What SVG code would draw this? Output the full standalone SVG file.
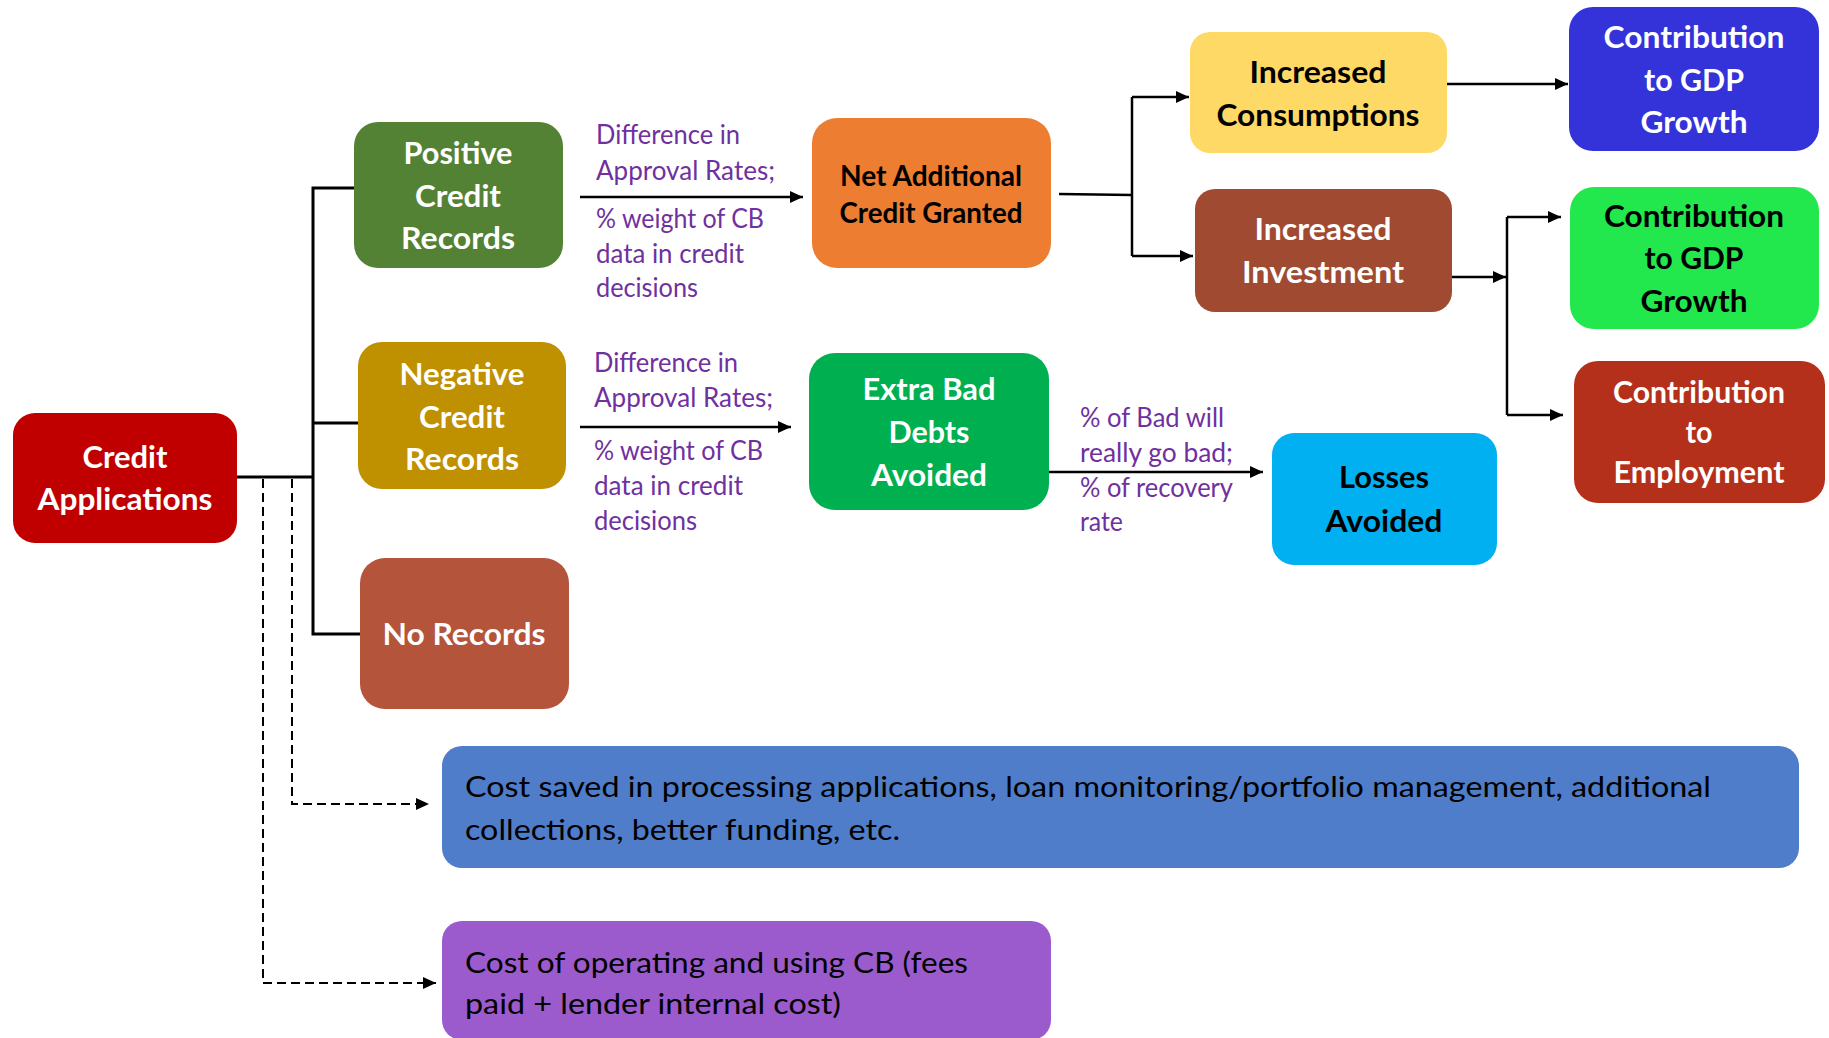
<svg xmlns="http://www.w3.org/2000/svg" width="1829" height="1038" viewBox="0 0 1829 1038">
  <style>
    text { font-family: Lato, "Open Sans", "Liberation Sans", sans-serif; }
    .t { font-weight: 700; font-size: 31px; text-anchor: middle; }
    .t-sm { font-weight: 700; font-size: 28px; text-anchor: middle; }
    .w { fill: #ffffff; }
    .k { fill: #000000; }
    .lbl { font-size: 27px; fill: #7030A0; }
    .body { font-size: 29.5px; fill: #000000; }
    .wire { fill: none; stroke: #000000; stroke-width: 2.5; }
    .trunk { fill: none; stroke: #000000; stroke-width: 3; }
    .dash { fill: none; stroke: #000000; stroke-width: 2; stroke-dasharray: 9 5; }
  </style>
  <defs>
    <marker id="arr" viewBox="0 0 13 12" refX="13" refY="6" markerWidth="13" markerHeight="12" markerUnits="userSpaceOnUse" orient="auto">
      <path d="M0,0 L13,6 L0,12 z" fill="#000000"/>
    </marker>
  </defs>

  <rect width="1829" height="1038" fill="#ffffff"/>

  <!-- connectors -->
  <g id="connectors">
    <path class="trunk" d="M237,477 H313"/>
    <path class="trunk" d="M354,188 H313 V634 H360"/>
    <path class="trunk" d="M313,423 H358"/>
    <path class="dash" d="M292,479 V804 H429" marker-end="url(#arr)"/>
    <path class="dash" d="M263,479 V983 H436" marker-end="url(#arr)"/>
    <path class="wire" d="M580,197 H803" marker-end="url(#arr)"/>
    <path class="wire" d="M580,427 H791" marker-end="url(#arr)"/>
    <path class="wire" stroke-width="2" d="M1059,194 L1132,195"/>
    <path class="wire" stroke-width="2" d="M1132,97 V256"/>
    <path class="wire" stroke-width="2" d="M1132,97 H1189" marker-end="url(#arr)"/>
    <path class="wire" stroke-width="2" d="M1132,256 H1193" marker-end="url(#arr)"/>
    <path class="wire" d="M1049,472 H1263" marker-end="url(#arr)"/>
    <path class="wire" stroke-width="2" d="M1447,84 H1568" marker-end="url(#arr)"/>
    <path class="wire" stroke-width="2" d="M1452,277 H1506" marker-end="url(#arr)"/>
    <path class="wire" stroke-width="2" d="M1507,217 V415"/>
    <path class="wire" stroke-width="2" d="M1507,217 H1561" marker-end="url(#arr)"/>
    <path class="wire" stroke-width="2" d="M1507,415 H1563" marker-end="url(#arr)"/>
  </g>

  <!-- edge labels -->
  <g id="label-positive" class="lbl">
    <text x="596" y="144" textLength="144" lengthAdjust="spacingAndGlyphs">Difference in</text>
    <text x="596" y="180" textLength="179" lengthAdjust="spacingAndGlyphs">Approval Rates;</text>
    <text x="596" y="228" textLength="168" lengthAdjust="spacingAndGlyphs">% weight of CB</text>
    <text x="596" y="263" textLength="148" lengthAdjust="spacingAndGlyphs">data in credit</text>
    <text x="596" y="297" textLength="102" lengthAdjust="spacingAndGlyphs">decisions</text>
  </g>
  <g id="label-negative" class="lbl">
    <text x="594" y="372" textLength="144" lengthAdjust="spacingAndGlyphs">Difference in</text>
    <text x="594" y="407" textLength="179" lengthAdjust="spacingAndGlyphs">Approval Rates;</text>
    <text x="594" y="460" textLength="169" lengthAdjust="spacingAndGlyphs">% weight of CB</text>
    <text x="594" y="495" textLength="149" lengthAdjust="spacingAndGlyphs">data in credit</text>
    <text x="594" y="530" textLength="103" lengthAdjust="spacingAndGlyphs">decisions</text>
  </g>
  <g id="label-bad-debts" class="lbl">
    <text x="1080" y="427" textLength="144" lengthAdjust="spacingAndGlyphs">% of Bad will</text>
    <text x="1080" y="462" textLength="153" lengthAdjust="spacingAndGlyphs">really go bad;</text>
    <text x="1080" y="497" textLength="153" lengthAdjust="spacingAndGlyphs">% of recovery</text>
    <text x="1080" y="531" textLength="43" lengthAdjust="spacingAndGlyphs">rate</text>
  </g>

  <!-- nodes -->
  <g id="credit-applications">
    <rect x="13" y="413" width="224" height="130" rx="22" fill="#C00000"/>
    <text class="t w" x="125" y="468" textLength="85" lengthAdjust="spacingAndGlyphs">Credit</text>
    <text class="t w" x="125" y="510" textLength="175" lengthAdjust="spacingAndGlyphs">Applications</text>
  </g>
  <g id="positive-records">
    <rect x="354" y="122" width="209" height="146" rx="24" fill="#548235"/>
    <text class="t w" x="458" y="164" textLength="109" lengthAdjust="spacingAndGlyphs">Positive</text>
    <text class="t w" x="458" y="207" textLength="86" lengthAdjust="spacingAndGlyphs">Credit</text>
    <text class="t w" x="458" y="249" textLength="114" lengthAdjust="spacingAndGlyphs">Records</text>
  </g>
  <g id="negative-records">
    <rect x="358" y="342" width="208" height="147" rx="24" fill="#BF9000"/>
    <text class="t w" x="462" y="385" textLength="125" lengthAdjust="spacingAndGlyphs">Negative</text>
    <text class="t w" x="462" y="428" textLength="86" lengthAdjust="spacingAndGlyphs">Credit</text>
    <text class="t w" x="462" y="470" textLength="114" lengthAdjust="spacingAndGlyphs">Records</text>
  </g>
  <g id="no-records">
    <rect x="360" y="558" width="209" height="151" rx="25" fill="#B4543A"/>
    <text class="t w" x="464" y="645" textLength="163" lengthAdjust="spacingAndGlyphs">No Records</text>
  </g>
  <g id="net-additional-credit">
    <rect x="812" y="118" width="239" height="150" rx="25" fill="#ED7D31"/>
    <text class="t-sm k" x="931" y="186" textLength="182" lengthAdjust="spacingAndGlyphs">Net Additional</text>
    <text class="t-sm k" x="931" y="223" textLength="183" lengthAdjust="spacingAndGlyphs">Credit Granted</text>
  </g>
  <g id="extra-bad-debts">
    <rect x="809" y="353" width="240" height="157" rx="26" fill="#00B050"/>
    <text class="t w" x="929" y="400" textLength="133" lengthAdjust="spacingAndGlyphs">Extra Bad</text>
    <text class="t w" x="929" y="443" textLength="81" lengthAdjust="spacingAndGlyphs">Debts</text>
    <text class="t w" x="929" y="486" textLength="116" lengthAdjust="spacingAndGlyphs">Avoided</text>
  </g>
  <g id="losses-avoided">
    <rect x="1272" y="433" width="225" height="132" rx="22" fill="#00B0F0"/>
    <text class="t k" x="1384" y="488" textLength="90" lengthAdjust="spacingAndGlyphs">Losses</text>
    <text class="t k" x="1384" y="532" textLength="117" lengthAdjust="spacingAndGlyphs">Avoided</text>
  </g>
  <g id="increased-consumptions">
    <rect x="1190" y="32" width="257" height="121" rx="20" fill="#FFD966"/>
    <text class="t k" x="1318" y="83" textLength="137" lengthAdjust="spacingAndGlyphs">Increased</text>
    <text class="t k" x="1318" y="126" textLength="203" lengthAdjust="spacingAndGlyphs">Consumptions</text>
  </g>
  <g id="increased-investment">
    <rect x="1195" y="189" width="257" height="123" rx="20" fill="#A04A32"/>
    <text class="t w" x="1323" y="240" textLength="137" lengthAdjust="spacingAndGlyphs">Increased</text>
    <text class="t w" x="1323" y="283" textLength="162" lengthAdjust="spacingAndGlyphs">Investment</text>
  </g>
  <g id="gdp-from-consumption">
    <rect x="1569" y="7" width="250" height="144" rx="24" fill="#3333D9"/>
    <text class="t w" x="1694" y="48" textLength="181" lengthAdjust="spacingAndGlyphs">Contribution</text>
    <text class="t w" x="1694" y="91" textLength="100" lengthAdjust="spacingAndGlyphs">to GDP</text>
    <text class="t w" x="1694" y="133" textLength="107" lengthAdjust="spacingAndGlyphs">Growth</text>
  </g>
  <g id="gdp-from-investment">
    <rect x="1570" y="187" width="249" height="142" rx="24" fill="#22E84E"/>
    <text class="t k" x="1694" y="227" textLength="180" lengthAdjust="spacingAndGlyphs">Contribution</text>
    <text class="t k" x="1694" y="269" textLength="99" lengthAdjust="spacingAndGlyphs">to GDP</text>
    <text class="t k" x="1694" y="312" textLength="107" lengthAdjust="spacingAndGlyphs">Growth</text>
  </g>
  <g id="employment">
    <rect x="1574" y="361" width="251" height="142" rx="24" fill="#B5301A"/>
    <text class="t w" x="1699" y="403" textLength="172" lengthAdjust="spacingAndGlyphs" style="font-size:29.5px">Contribution</text>
    <text class="t w" x="1699" y="443" textLength="27" lengthAdjust="spacingAndGlyphs" style="font-size:29.5px">to</text>
    <text class="t w" x="1699" y="483" textLength="171" lengthAdjust="spacingAndGlyphs" style="font-size:29.5px">Employment</text>
  </g>
  <g id="cost-saved">
    <rect x="442" y="746" width="1357" height="122" rx="20" fill="#4F7DC9"/>
    <text class="body" x="465" y="797" textLength="1246" lengthAdjust="spacingAndGlyphs">Cost saved in processing applications, loan monitoring/portfolio management, additional</text>
    <text class="body" x="465" y="840" textLength="435" lengthAdjust="spacingAndGlyphs">collections, better funding, etc.</text>
  </g>
  <g id="cost-of-cb">
    <rect x="442" y="921" width="609" height="119" rx="20" fill="#9B5BCC"/>
    <text class="body" x="465" y="973" textLength="503" lengthAdjust="spacingAndGlyphs">Cost of operating and using CB (fees</text>
    <text class="body" x="465" y="1014" textLength="376" lengthAdjust="spacingAndGlyphs">paid + lender internal cost)</text>
  </g>
</svg>
